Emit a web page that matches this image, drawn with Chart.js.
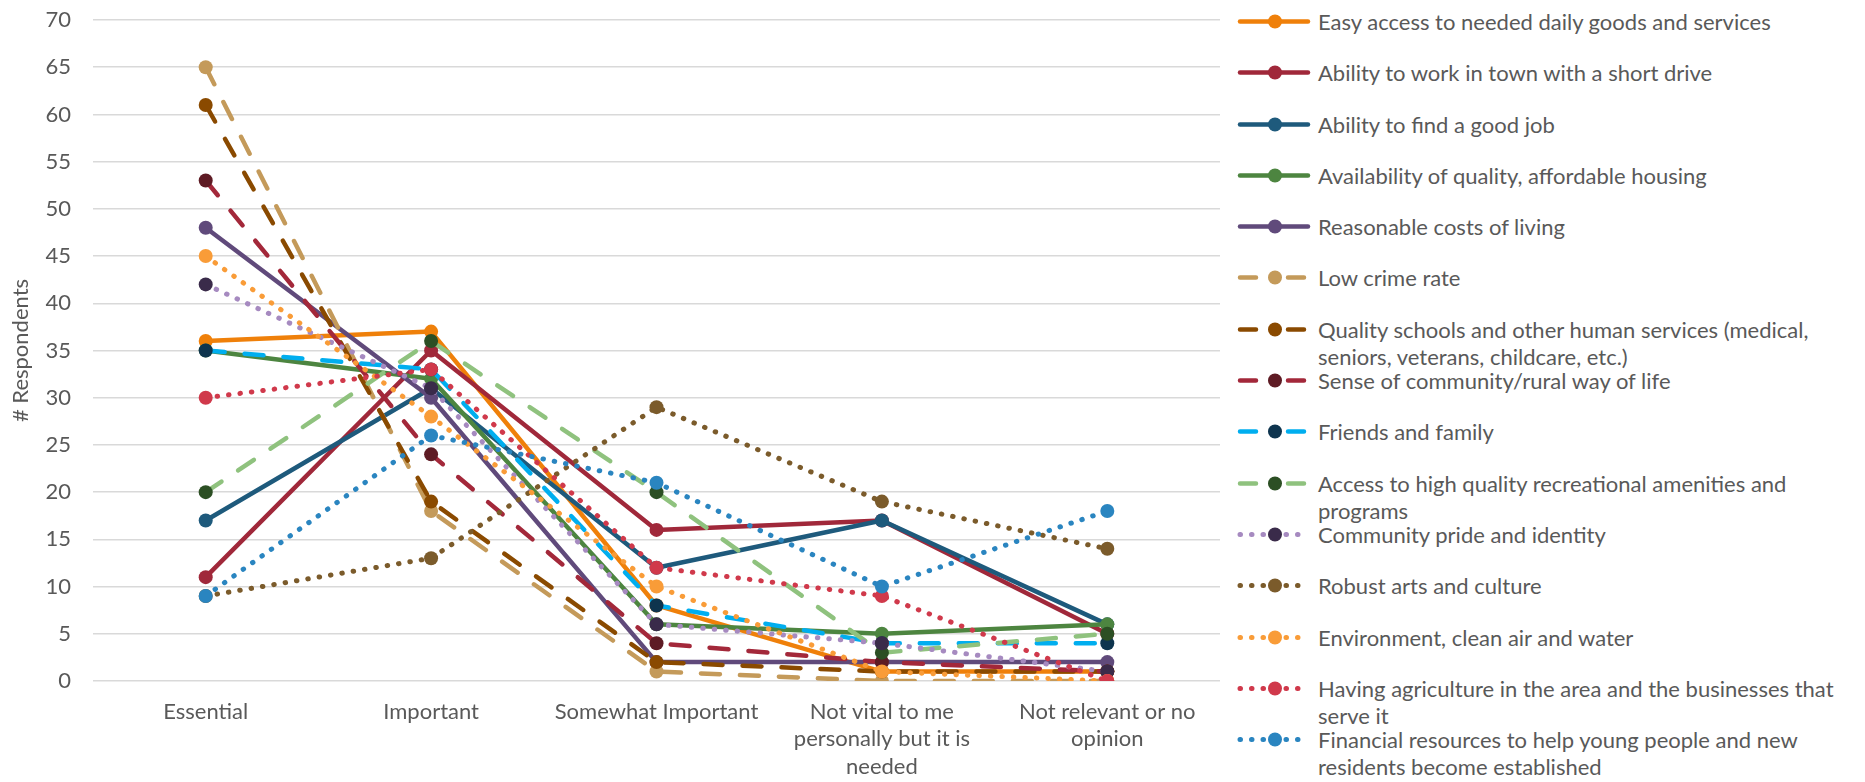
<!DOCTYPE html>
<html>
<head>
<meta charset="utf-8">
<script src="https://cdn.jsdelivr.net/npm/chart.js@4"></script>
<style>
  html, body { margin: 0; padding: 0; background: #fff; }
  body { width: 1865px; height: 782px; position: relative; overflow: hidden; font-family: Lato, 'Liberation Sans', sans-serif; }
  #wrap { position: absolute; left: 0; top: 0; width: 1232px; height: 782px; }
  #legend { position: absolute; left: 1236px; top: 8px; width: 625px; color: #595959; font-size: 22px; line-height: 27px; }
  .item { height: 51.3px; display: flex; align-items: flex-start; }
  .item svg { flex: none; width: 76px; height: 27px; margin-right: 6px; }
  .item span { flex: 1; }
</style>
</head>
<body>
<div id="wrap"><canvas id="chart" width="1232" height="782"></canvas></div>
<div id="legend"></div>
<script>
// categories (x axis)
const categories = [
    'Essential',
    'Important',
    'Somewhat Important',
    ['Not vital to me', 'personally but it is', 'needed'],
    ['Not relevant or no', 'opinion']
];

// # respondents per series
const easyAccess  = [36, 37, 8, 1, 1];
const workInTown  = [11, 35, 16, 17, 5];
const goodJob     = [17, 31, 12, 17, 6];
const housing     = [35, 32, 6, 5, 6];
const costLiving  = [48, 30, 2, 2, 2];
const lowCrime    = [65, 18, 1, 0, 0];
const schools     = [61, 19, 2, 1, 1];
const community   = [53, 24, 4, 2, 1];
const friends     = [35, 33, 8, 4, 4];
const recreation  = [20, 36, 20, 3, 5];
const pride       = [42, 31, 6, 4, 1];
const arts        = [9, 13, 29, 19, 14];
const environment = [45, 28, 10, 1, 0];
const agriculture = [30, 33, 12, 9, 0];
const financial   = [9, 26, 21, 10, 18];

const seriesLabels = [
    'Easy access to needed daily goods and services',
    'Ability to work in town with a short drive',
    'Ability to find a good job',
    'Availability of quality, affordable housing',
    'Reasonable costs of living',
    'Low crime rate',
    'Quality schools and other human services (medical, seniors, veterans, childcare, etc.)',
    'Sense of community/rural way of life',
    'Friends and family',
    'Access to high quality recreational amenities and programs',
    'Community pride and identity',
    'Robust arts and culture',
    'Environment, clean air and water',
    'Having agriculture in the area and the businesses that serve it',
    'Financial resources to help young people and new residents become established'
];
const seriesData = [easyAccess, workInTown, goodJob, housing, costLiving, lowCrime, schools,
    community, friends, recreation, pride, arts, environment, agriculture, financial];

const lineColors = ['#EF800A', '#A0283A', '#1E5A7C', '#4D8540', '#604A7B', '#C49A5A', '#8A4A00',
    '#A3283A', '#00AEEF', '#8FC27E', '#A68AC0', '#7B5B2B', '#F99C38', '#D0394B', '#2A85C0'];
const markerColors = ['#EF800A', '#A0283A', '#1E5A7C', '#4D8540', '#604A7B', '#C49A5A', '#8A4A00',
    '#5E1B24', '#0E344E', '#2C4F24', '#3A2B4A', '#7B5B2B', '#F99C38', '#D0394B', '#2A85C0'];
const lineStyles = ['solid', 'solid', 'solid', 'solid', 'solid', 'dash', 'dash', 'dash', 'dash', 'dash',
    'dot', 'dot', 'dot', 'dot', 'dot'];

const textColor = '#595959';
const fontFamily = "Lato, 'Liberation Sans', sans-serif";

function dashFor(style) {
    if (style === 'dash') return [19, 20];
    if (style === 'dot') return [0.5, 11];
    return [];
}

const datasets = seriesData.map((data, i) => ({
    label: seriesLabels[i],
    data: data,
    borderColor: lineColors[i],
    backgroundColor: markerColors[i],
    pointBackgroundColor: markerColors[i],
    pointBorderColor: markerColors[i],
    pointBorderWidth: 0,
    pointRadius: 7,
    pointHoverRadius: 7,
    borderWidth: lineStyles[i] === 'dot' ? 5 : 4.5,
    borderDash: dashFor(lineStyles[i]),
    borderCapStyle: 'round',
    borderJoinStyle: 'round',
    tension: 0,
    order: seriesData.length - i   // later series drawn on top, like Excel
}));

new Chart(document.getElementById('chart'), {
    type: 'line',
    data: { labels: categories, datasets: datasets },
    options: {
        responsive: false,
        animation: false,
        layout: { padding: { top: 0, right: 12, left: 0, bottom: 0 } },
        plugins: {
            legend: { display: false },
            tooltip: { enabled: false }
        },
        scales: {
            x: {
                offset: true,
                grid: { display: false, offset: true },
                border: { display: false },
                ticks: {
                    color: textColor,
                    font: { family: fontFamily, size: 22, lineHeight: 1.25 },
                    padding: 9,
                    maxRotation: 0,
                    autoSkip: false
                },
                afterFit: (scale) => { scale.height = 101; }
            },
            y: {
                min: 0,
                max: 70,
                ticks: {
                    stepSize: 5,
                    color: textColor,
                    font: { family: fontFamily, size: 22 },
                    padding: 22
                },
                grid: { color: '#D9D9D9', lineWidth: 1.5, drawTicks: false },
                border: { display: false },
                title: {
                    display: true,
                    text: '# Respondents',
                    color: textColor,
                    font: { family: fontFamily, size: 22 },
                    padding: { top: 8, bottom: 0 }
                },
                afterFit: (scale) => {
                    scale.width = 93;
                    // tick padding also pads the top; keep the plot top at 70 = y 20
                    scale.paddingTop = 20;
                    scale.paddingBottom = 0;
                }
            }
        }
    }
});

// legend on the right: line sample + marker, wrapped text
const legend = document.getElementById('legend');
legend.innerHTML = datasets.map((ds, i) => {
    let dash = '';
    let width = 4.5;
    if (lineStyles[i] === 'dash') dash = 'stroke-dasharray="16 32"';
    if (lineStyles[i] === 'dot') { dash = 'stroke-dasharray="0.5 11"'; width = 5; }
    return `
        <div class="item">
            <svg viewBox="0 0 76 27">
                <line x1="4" y1="13.5" x2="72" y2="13.5" stroke="${ds.borderColor}" stroke-width="${width}"
                      stroke-linecap="round" ${dash}/>
                <circle cx="39" cy="13.5" r="7" fill="${ds.pointBackgroundColor}"/>
            </svg>
            <span>${ds.label}</span>
        </div>`;
}).join('');
</script>
</body>
</html>
